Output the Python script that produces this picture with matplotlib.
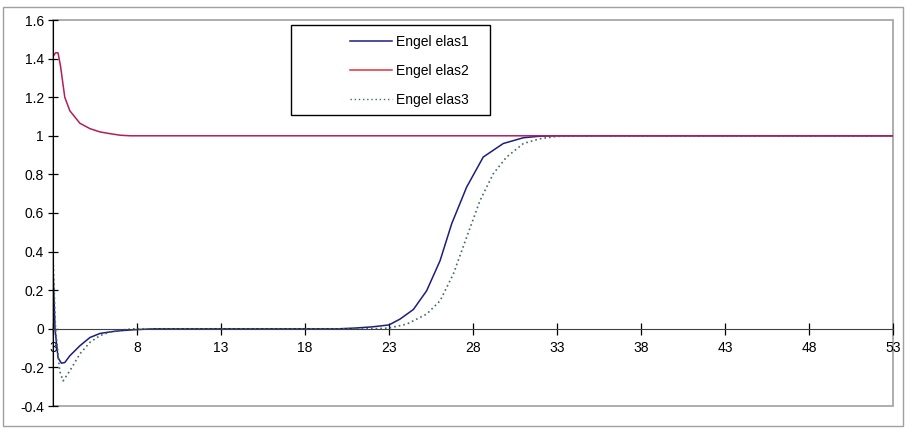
import matplotlib
matplotlib.use("Agg")
import matplotlib.pyplot as plt
from matplotlib.patches import Rectangle
from matplotlib.lines import Line2D

plt.rcParams['font.family'] = ['Liberation Sans', 'DejaVu Sans']

# values
elas1_x = [3, 3.12, 3.3, 3.5, 3.7, 4.0, 4.6, 5.2, 5.8, 6.4, 7.0, 7.8, 9, 20, 21, 22, 23,
           23.65, 24.45, 25.24, 26.04, 26.73, 27.62, 28.61, 29.8, 31.0, 32, 33, 53]
elas1_y = [0.32, 0.0, -0.15, -0.178, -0.175, -0.14, -0.088, -0.045, -0.024, -0.016, -0.01, -0.005, 0.0, 0.0,
           0.004, 0.01, 0.02, 0.05, 0.10, 0.197, 0.353, 0.544, 0.734, 0.89, 0.96, 0.99, 0.998, 1.0, 1.0]

elas2_x = [3, 3.15, 3.3, 3.45, 3.7, 4.0, 4.6, 5.2, 5.8, 6.4, 7.0, 7.6, 53]
elas2_y = [1.41, 1.43, 1.43, 1.36, 1.20, 1.13, 1.065, 1.037, 1.02, 1.011, 1.003, 1.0, 1.0]

elas3_x = [3, 3.15, 3.4, 3.6, 4.0, 4.6, 5.2, 5.8, 6.4, 7.0, 7.8, 22, 23, 24.05, 25.24, 26.04,
           26.83, 27.62, 28.42, 29.21, 30.0, 31, 32, 33, 34.4, 53]
elas3_y = [0.38, 0.0, -0.22, -0.27, -0.218, -0.13, -0.07, -0.035, -0.017, -0.007, 0.0, 0.0, 0.004, 0.024,
           0.076, 0.145, 0.284, 0.474, 0.665, 0.804, 0.89, 0.96, 0.985, 0.997, 1.0, 1.0]

labels = ["Engel elas1", "Engel elas2", "Engel elas3"]
x_ticks = list(range(3, 54, 5))
y_ticks = [-0.4, -0.2, 0, 0.2, 0.4, 0.6, 0.8, 1.0, 1.2, 1.4, 1.6]

fig = plt.figure(figsize=(9.06, 4.28), dpi=100)
ax = fig.add_axes([53 / 906, 1 - 406 / 428, 840 / 906, 386 / 428])

ax.plot(elas1_x, elas1_y, color='#1c1c82', lw=1.1)
ax.plot(elas3_x, elas3_y, color='#3f6f5f', lw=1.2, linestyle=(0, (1, 1.8)))
ax.plot(elas2_x, elas2_y, color='#b41c5c', lw=1.1)

ax.set_xlim(3, 53)
ax.set_ylim(-0.4, 1.6)
ax.set_xticks(x_ticks)
ax.set_yticks(y_ticks)
ax.set_yticklabels([f"{v:g}" for v in y_ticks])

ax.spines['top'].set_visible(False)
ax.spines['right'].set_visible(False)
ax.spines['bottom'].set_position(('data', 0))
ax.spines['bottom'].set_color('#404040')
ax.spines['left'].set_color('black')
ax.add_patch(Rectangle((0, 0), 1, 1, transform=ax.transAxes, fill=False,
                       edgecolor='#a0a0a0', lw=1.2, zorder=0.5, clip_on=False))

ax.tick_params(axis='x', direction='inout', length=8, width=0.9, labelsize=10, pad=5)
ax.tick_params(axis='y', direction='inout', length=7, width=0.9, labelsize=10, pad=3)

# legend box
fig.patches.append(Rectangle((291 / 906, 1 - 115 / 428), 199 / 906, 90 / 428,
                             transform=fig.transFigure, fill=False, edgecolor='black', lw=1))
handles = [Line2D([], [], color='#1c1c82', lw=1.1),
           Line2D([], [], color='#e03040', lw=1.1),
           Line2D([], [], color='#3f6f5f', lw=1.0, linestyle=(0, (1, 2)))]
fig.legend(handles, labels, loc='upper left', bbox_to_anchor=(350 / 906, 1 - 35 / 428),
           frameon=False, fontsize=10, handlelength=3.0, handletextpad=0.3,
           labelspacing=1.08, borderpad=0, borderaxespad=0)

# chart area border
fig.patches.append(Rectangle((3 / 906, 2 / 428), 900 / 906, 419 / 428,
                             transform=fig.transFigure, fill=False, edgecolor='#a0a0a0', lw=1))

fig.savefig("out.png", dpi=100)
